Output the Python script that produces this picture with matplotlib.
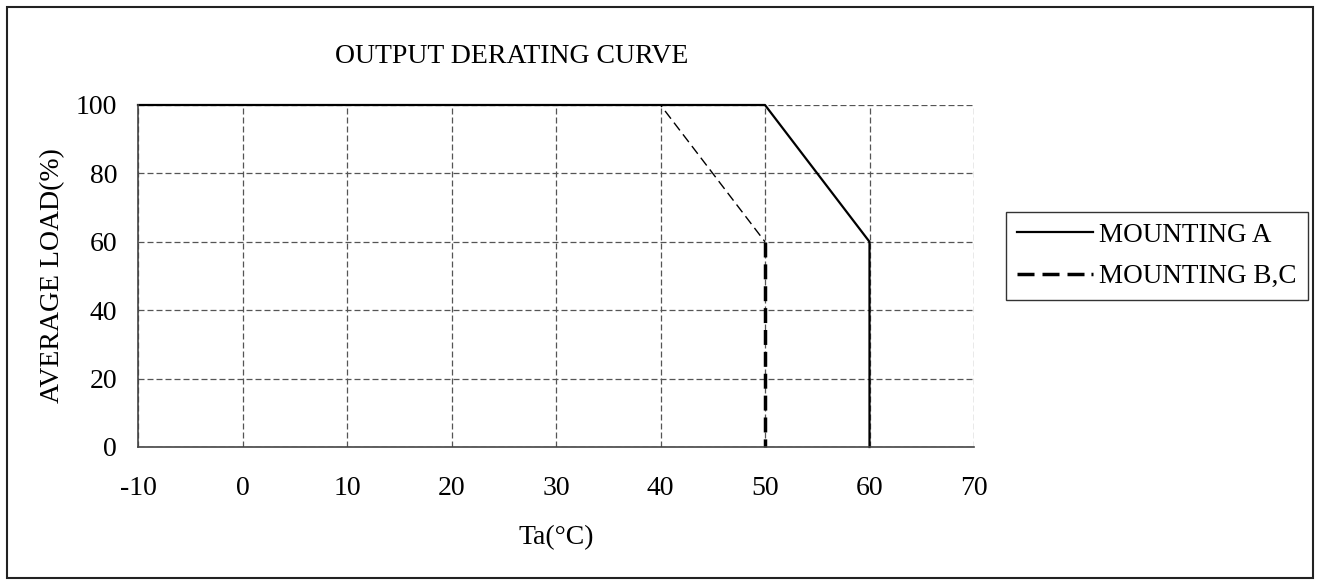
import matplotlib
matplotlib.use("Agg")
import matplotlib.pyplot as plt
from matplotlib.patches import Rectangle
from matplotlib.lines import Line2D

plt.rcParams['font.family'] = ['Liberation Serif', 'DejaVu Serif']
plt.rcParams['axes.unicode_minus'] = False

# Data
a_x = [-10, 50, 60, 60]
a_y = [100, 100, 60, 0]
bc_slope_x = [-10, 40, 50]
bc_slope_y = [100, 100, 60]
bc_drop_x = [50, 50]
bc_drop_y = [60, 0]
xticks = [-10, 0, 10, 20, 30, 40, 50, 60, 70]
yticks = [0, 20, 40, 60, 80, 100]
labels = ['MOUNTING A', 'MOUNTING B,C']

W, H = 1322, 585
fig = plt.figure(figsize=(W / 100, H / 100), dpi=100)
fig.patches.append(Rectangle((7 / W, 7 / H), 1306 / W, 571 / H, transform=fig.transFigure,
                             fill=False, edgecolor='#222222', linewidth=1.5))

ax = fig.add_axes([138 / W, (H - 447) / H, (974 - 138) / W, (447 - 105) / H])
ax.set_xlim(-10, 70)
ax.set_ylim(0, 100)
ax.set_xticks(xticks)
ax.set_yticks(yticks)
ax.grid(True, linestyle=(0, (4.8, 2.4)), color='#555555', linewidth=0.9)
for s in ['top', 'right']:
    ax.spines[s].set_visible(False)
for s in ['left', 'bottom']:
    ax.spines[s].set_color('#444444')
    ax.spines[s].set_linewidth(1.2)
ax.tick_params(length=0, labelsize=20)
ax.tick_params(axis='x', pad=21)
ax.tick_params(axis='y', pad=15)

ax.plot(bc_slope_x, bc_slope_y, color='black', linewidth=1.0, linestyle=(0, (7, 3.6)), clip_on=False)
ax.plot(bc_drop_x, bc_drop_y, color='black', linewidth=2.5, linestyle=(0, (4.3, 2)), clip_on=False)
la, = ax.plot(a_x, a_y, color='black', linewidth=1.6, clip_on=False)

lb = Line2D([], [], color='black', linewidth=2.5, linestyle=(0, (4.9, 2.3, 4.9, 2.3, 4.9, 2.0, 0.9, 20)))
leg = fig.legend([la, lb], labels, loc='upper left',
                 bbox_to_anchor=(1006 / W, 1 - 212 / H), fontsize=19.5, frameon=True,
                 fancybox=False, edgecolor='black', handlelength=2.8, handletextpad=0.25,
                 borderpad=0.4, labelspacing=0.6, borderaxespad=0)
leg.get_frame().set_linewidth(1.0)

ax.set_xlabel('Ta(°C)', fontsize=20, labelpad=17)
ax.set_ylabel('AVERAGE LOAD(%)', fontsize=20, labelpad=8)
fig.text(512 / W, 1 - 63 / H, 'OUTPUT DERATING CURVE', fontsize=20, ha='center', va='baseline')

fig.savefig('out.png', dpi=100)
